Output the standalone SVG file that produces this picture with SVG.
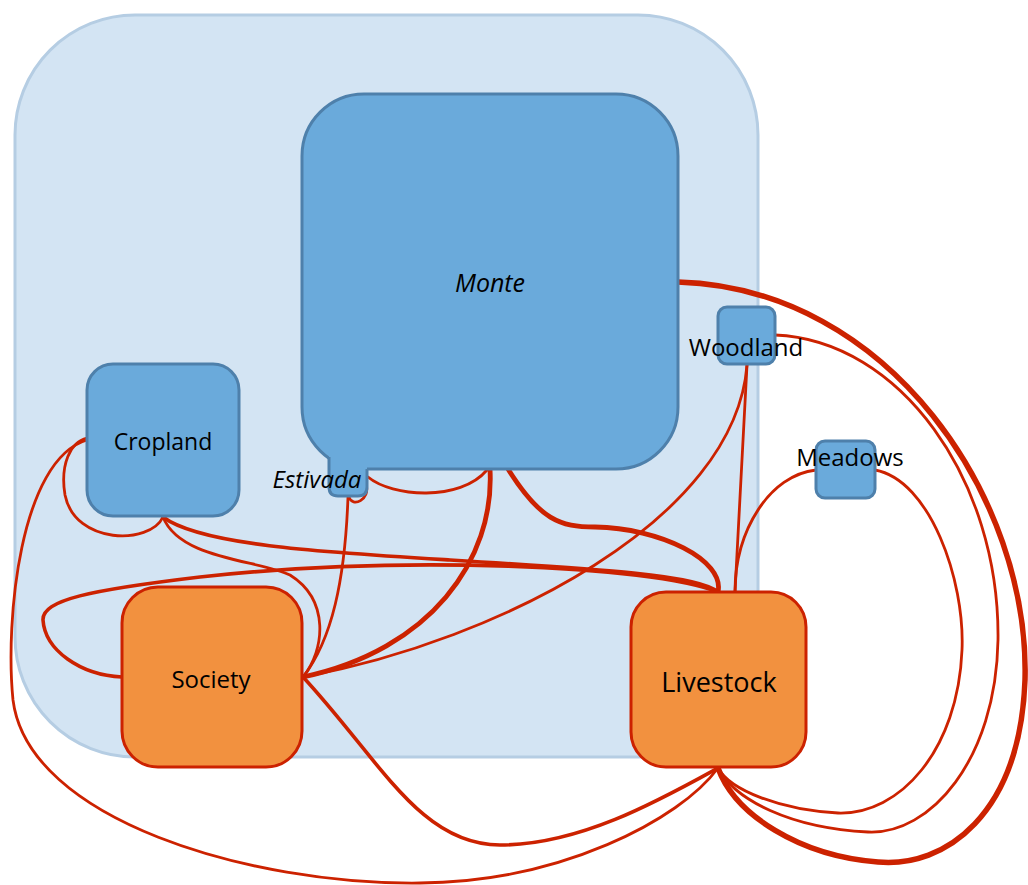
<svg xmlns="http://www.w3.org/2000/svg" width="1028" height="885" viewBox="0 0 1028 885">
<style>
.lbl{font-family:"Open Sans","Liberation Sans",sans-serif;fill:#000;text-anchor:middle}
.it{font-style:italic}
.blue{fill:#6aaadb;stroke:#4e80ab;stroke-width:3}
.orange{fill:#f2913f;stroke:#cc2200;stroke-width:3}
.c{fill:none;stroke:#cc2200;stroke-width:2.8;stroke-linecap:round}
.m{stroke-width:3.6}
.t{stroke-width:4.8}
.x{stroke-width:5.5}
</style>
<rect id="container" x="15" y="15" width="743" height="742" rx="120" ry="120" fill="#d3e4f3" stroke="#b5cde3" stroke-width="3"/>
<g id="connectors">
<path class="c x" d="M678,282 C890,288 1030,500 1025,680 C1020,815 945,868 878,862 C800,856 735,815 718,768"/>
<path class="c" d="M775,335 C900,340 1000,480 998,640 C996,760 930,835 868,832 C790,828 735,800 718,768"/>
<path class="c" d="M875,470 C930,480 965,580 962,650 C958,750 900,815 838,813 C780,810 730,790 718,768"/>
<path class="c" d="M816,470 C770,475 735,530 735,592"/>
<path class="c" d="M747,365 L735,592"/>
<path class="c" d="M747,365 C735,520 500,640 303,677"/>
<path class="c t" d="M490,469 C495,560 430,650 303,677"/>
<path class="c" d="M368,477 C392,497 460,502 487,470"/>
<path class="c" d="M366,484 C371,500 352,508 349,497"/>
<path class="c" d="M348,497 C345,580 332,640 303,677"/>
<path class="c t" d="M508,469 C540,520 560,527 595,527 C660,528 725,560 718,592"/>
<path class="c" d="M163,517 C150,545 75,545 65,495 C60,465 70,442 87,438"/>
<path class="c" d="M87,440 C20,460 5,620 13,700 C28,820 250,885 420,883 C560,882 680,820 718,768"/>
<path class="c m" d="M303,677 C380,760 420,845 500,845 C580,845 660,800 718,768"/>
<path class="c" d="M163,517 C180,560 260,560 290,575 C330,600 325,650 303,677"/>
<path class="c m" d="M163,517 C200,545 320,552 450,560 C600,569 700,575 718,592"/>
<path class="c m" d="M122,677 C80,675 45,650 43,620 C42,600 90,590 200,577 C400,555 650,565 718,592"/>
</g>
<g id="monte">
<rect class="blue" x="302" y="94" width="376" height="375" rx="62" ry="62"/>
<text class="lbl it" x="490" y="292" font-size="25">Monte</text>
</g>
<g id="estivada">
<path d="M329,456 L367,456 L367,487 Q367,496 358,496 L338,496 Q329,496 329,487 Z" fill="#6aaadb"/>
<path d="M329,457 L329,487 Q329,496 338,496 L358,496 Q367,496 367,487 L367,469" fill="none" stroke="#4e80ab" stroke-width="3"/>
<text class="lbl it" x="317" y="488" font-size="24">Estivada</text>
</g>
<g id="cropland">
<rect class="blue" x="87" y="364" width="152" height="152" rx="26" ry="26"/>
<text class="lbl" x="163" y="450" font-size="23">Cropland</text>
</g>
<g id="woodland">
<rect class="blue" x="718" y="307" width="57" height="57" rx="9" ry="9"/>
<text class="lbl" x="746" y="356" font-size="24">Woodland</text>
</g>
<g id="meadows">
<rect class="blue" x="816" y="441" width="59" height="57" rx="9" ry="9"/>
<text class="lbl" x="850" y="466" font-size="24">Meadows</text>
</g>
<g id="society">
<rect class="orange" x="122" y="587" width="180" height="180" rx="36" ry="36"/>
<text class="lbl" x="211" y="688" font-size="24">Society</text>
</g>
<g id="livestock">
<rect class="orange" x="631" y="592" width="175" height="175" rx="35" ry="35"/>
<text class="lbl" x="719" y="692" font-size="27">Livestock</text>
</g>
</svg>
